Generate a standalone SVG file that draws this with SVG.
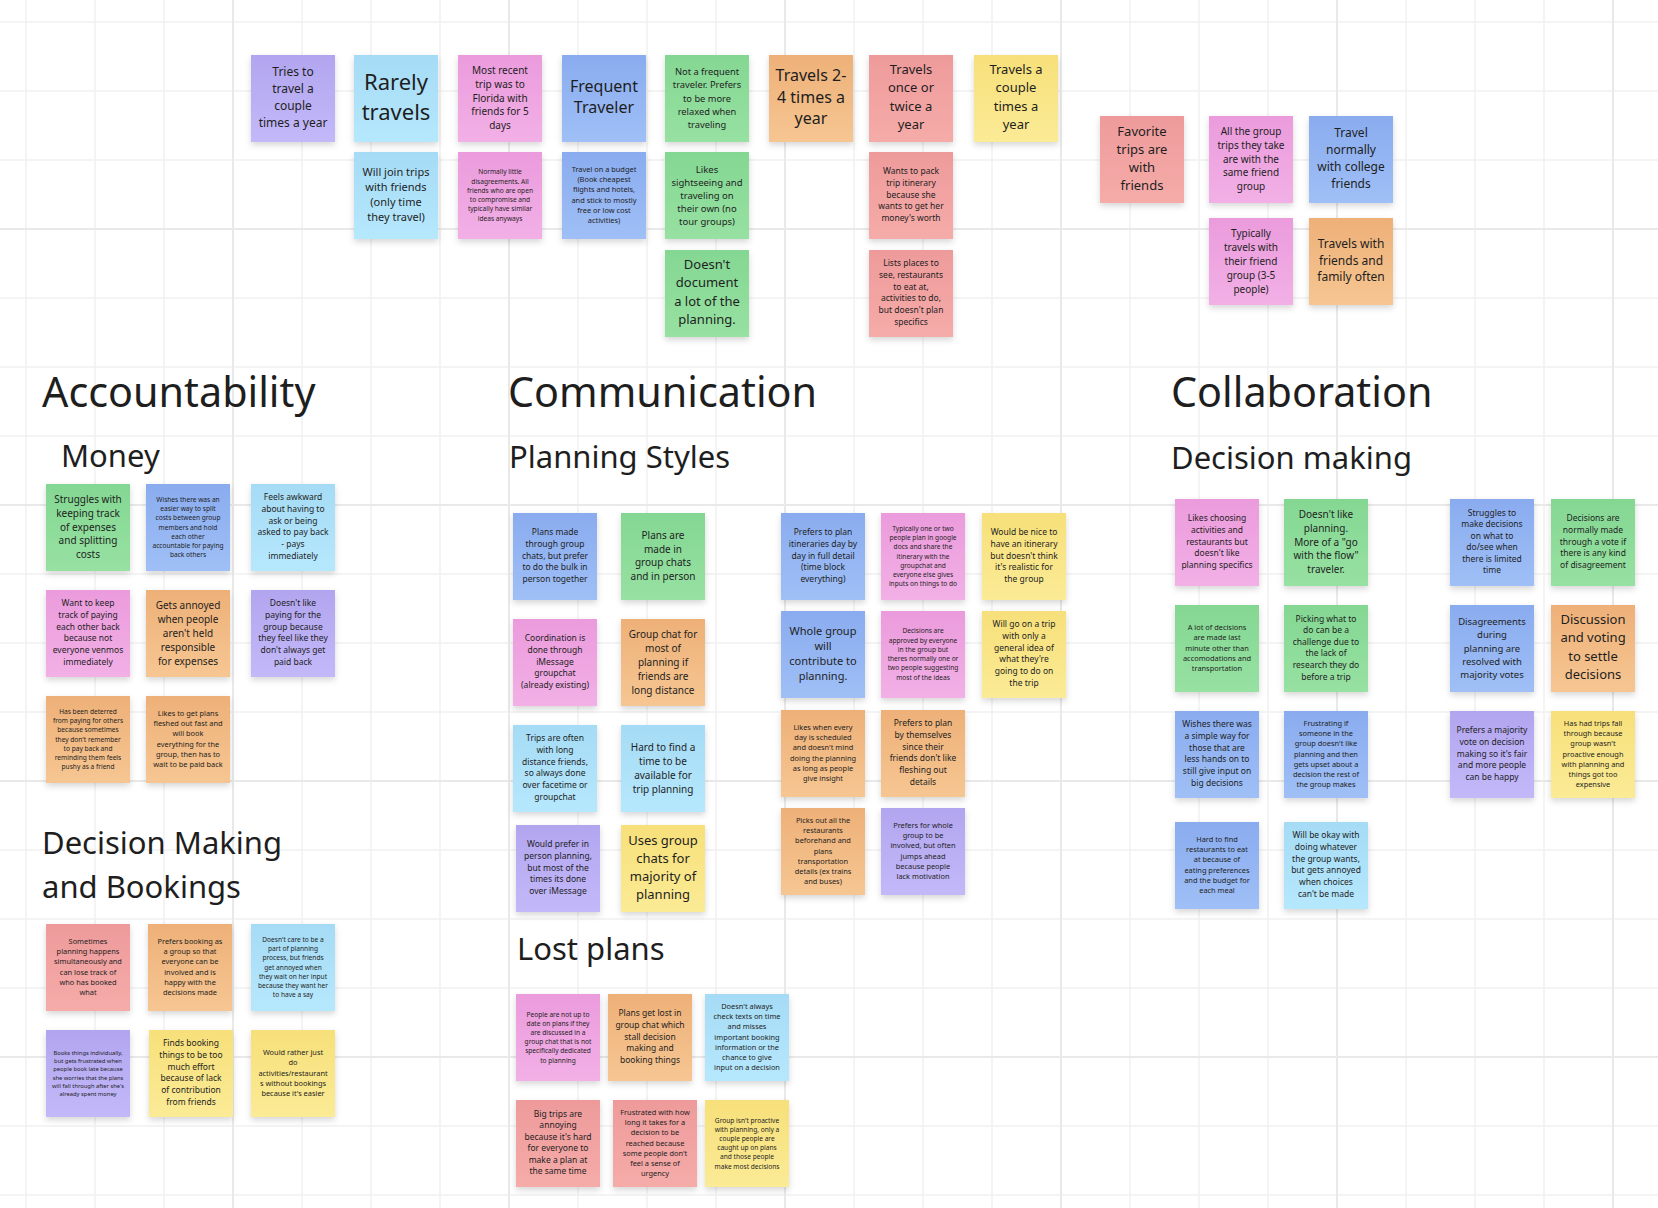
<svg xmlns="http://www.w3.org/2000/svg" width="1658" height="1208" viewBox="0 0 1658 1208">
<defs>
<linearGradient id="gPurple" x1="0" y1="0" x2="0" y2="1"><stop offset="0" stop-color="#b2a5ef"/><stop offset="1" stop-color="#c3b9f9"/></linearGradient>
<linearGradient id="gLblue" x1="0" y1="0" x2="0" y2="1"><stop offset="0" stop-color="#a5dbf5"/><stop offset="1" stop-color="#b6e8fd"/></linearGradient>
<linearGradient id="gPink" x1="0" y1="0" x2="0" y2="1"><stop offset="0" stop-color="#eb9bdc"/><stop offset="1" stop-color="#f2b0e6"/></linearGradient>
<linearGradient id="gBlue" x1="0" y1="0" x2="0" y2="1"><stop offset="0" stop-color="#8aacef"/><stop offset="1" stop-color="#9fbff6"/></linearGradient>
<linearGradient id="gGreen" x1="0" y1="0" x2="0" y2="1"><stop offset="0" stop-color="#84d792"/><stop offset="1" stop-color="#97e1a2"/></linearGradient>
<linearGradient id="gOrange" x1="0" y1="0" x2="0" y2="1"><stop offset="0" stop-color="#eeb078"/><stop offset="1" stop-color="#f6c692"/></linearGradient>
<linearGradient id="gRed" x1="0" y1="0" x2="0" y2="1"><stop offset="0" stop-color="#ee9a9b"/><stop offset="1" stop-color="#f5aca9"/></linearGradient>
<linearGradient id="gYellow" x1="0" y1="0" x2="0" y2="1"><stop offset="0" stop-color="#f7e07a"/><stop offset="1" stop-color="#fbeb96"/></linearGradient>
<filter id="sh" x="-20%" y="-20%" width="140%" height="150%"><feDropShadow dx="0" dy="3" stdDeviation="3" flood-color="#000" flood-opacity="0.16"/></filter>
</defs>
<style>
.purple{fill:url(#gPurple)} .lblue{fill:url(#gLblue)} .pink{fill:url(#gPink)} .blue{fill:url(#gBlue)}
.green{fill:url(#gGreen)} .orange{fill:url(#gOrange)} .red{fill:url(#gRed)} .yellow{fill:url(#gYellow)}
rect.s{filter:url(#sh)}
text{font-family:"Noto Sans","Open Sans","DejaVu Sans",sans-serif;fill:#1e1e1e}
text.t{text-anchor:middle;dominant-baseline:middle}
.h1{font-size:41.3px}
.h2{font-size:31px}
.f58{font-size:5.8px}.f66{font-size:6.6px}.f74{font-size:7.4px}.f85{font-size:8.5px}.f93{font-size:9.3px}.f95{font-size:9.5px}
.f10{font-size:10px}.f11{font-size:11px}.f12{font-size:12px}.f13{font-size:13px}.f16{font-size:16px}.f22{font-size:22px}
.gmin{stroke:#f1f1f1;stroke-width:1.5;fill:none}
.gmaj{stroke:#e9e9e9;stroke-width:2;fill:none}
</style>
<rect width="1658" height="1208" fill="#ffffff"/>
<g id="grid">
<path class="gmin" d="M26 0V1208M95 0V1208M164 0V1208M302 0V1208M371 0V1208M440 0V1208M578 0V1208M647 0V1208M716 0V1208M854 0V1208M923 0V1208M992 0V1208M1130 0V1208M1199 0V1208M1268 0V1208M1406 0V1208M1475 0V1208M1544 0V1208M0 22H1658M0 91H1658M0 160H1658M0 298H1658M0 367H1658M0 436H1658M0 574H1658M0 643H1658M0 712H1658M0 850H1658M0 919H1658M0 988H1658M0 1126H1658M0 1195H1658"/>
<path class="gmaj" d="M233 0V1208M509 0V1208M785 0V1208M1061 0V1208M1337 0V1208M1613 0V1208M0 229H1658M0 505H1658M0 781H1658M0 1057H1658"/>
</g>
<g id="connectors"/>
<g id="headings">
<text id="h-accountability" class="h1" x="42" y="407">Accountability</text>
<text id="h-communication" class="h1" x="508" y="407">Communication</text>
<text id="h-collaboration" class="h1" x="1171" y="407">Collaboration</text>
<text id="h-money" class="h2" x="61" y="467">Money</text>
<text id="h-planning" class="h2" x="509" y="468">Planning Styles</text>
<text id="h-decision" class="h2" x="1171" y="469">Decision making</text>
<text id="h-dmb" class="h2" x="42" y="854"><tspan x="42">Decision Making</tspan><tspan x="42" dy="44">and Bookings</tspan></text>
<text id="h-lost" class="h2" x="517" y="960">Lost plans</text>
</g>

<!-- Top section -->
<g id="n1"><rect class="s purple" x="251" y="55" width="84" height="87"/><text class="t f12" x="293" y="98.5"><tspan x="293" dy="-25.5">Tries to</tspan><tspan x="293" dy="17">travel a</tspan><tspan x="293" dy="17">couple</tspan><tspan x="293" dy="17">times a year</tspan></text></g>
<g id="n2"><rect class="s lblue" x="354" y="55" width="84" height="87"/><text class="t f22" x="396" y="98.5"><tspan x="396" dy="-15">Rarely</tspan><tspan x="396" dy="30">travels</tspan></text></g>
<g id="n3"><rect class="s lblue" x="354" y="152" width="84" height="87"/><text class="t f11" x="396" y="195.5"><tspan x="396" dy="-23">Will join trips</tspan><tspan x="396" dy="15.3">with friends</tspan><tspan x="396" dy="15.3">(only time</tspan><tspan x="396" dy="15.3">they travel)</tspan></text></g>
<g id="n4"><rect class="s pink" x="458" y="55" width="84" height="87"/><text class="t f10" x="500" y="98.5"><tspan x="500" dy="-27.8">Most recent</tspan><tspan x="500" dy="13.9">trip was to</tspan><tspan x="500" dy="13.9">Florida with</tspan><tspan x="500" dy="13.9">friends for 5</tspan><tspan x="500" dy="13.9">days</tspan></text></g>
<g id="n5"><rect class="s pink" x="458" y="152" width="84" height="87"/><text class="t f66" x="500" y="195.5"><tspan x="500" dy="-23.25">Normally little</tspan><tspan x="500" dy="9.3">disagreements. All</tspan><tspan x="500" dy="9.3">friends who are open</tspan><tspan x="500" dy="9.3">to compromise and</tspan><tspan x="500" dy="9.3">typically have similar</tspan><tspan x="500" dy="9.3">ideas anyways</tspan></text></g>
<g id="n6"><rect class="s blue" x="562" y="55" width="84" height="87"/><text class="t f16" x="604" y="98.5"><tspan x="604" dy="-10.85">Frequent</tspan><tspan x="604" dy="21.7">Traveler</tspan></text></g>
<g id="n7"><rect class="s blue" x="562" y="152" width="84" height="87"/><text class="t f74" x="604" y="195.5"><tspan x="604" dy="-25.5">Travel on a budget</tspan><tspan x="604" dy="10.2">(Book cheapest</tspan><tspan x="604" dy="10.2">flights and hotels,</tspan><tspan x="604" dy="10.2">and stick to mostly</tspan><tspan x="604" dy="10.2">free or low cost</tspan><tspan x="604" dy="10.2">activities)</tspan></text></g>
<g id="n8"><rect class="s green" x="665" y="55" width="84" height="87"/><text class="t f93" x="707" y="98.5"><tspan x="707" dy="-26.4">Not a frequent</tspan><tspan x="707" dy="13.2">traveler. Prefers</tspan><tspan x="707" dy="13.2">to be more</tspan><tspan x="707" dy="13.2">relaxed when</tspan><tspan x="707" dy="13.2">traveling</tspan></text></g>
<g id="n9"><rect class="s green" x="665" y="152" width="84" height="87"/><text class="t f95" x="707" y="195.5"><tspan x="707" dy="-26">Likes</tspan><tspan x="707" dy="13">sightseeing and</tspan><tspan x="707" dy="13">traveling on</tspan><tspan x="707" dy="13">their own (no</tspan><tspan x="707" dy="13">tour groups)</tspan></text></g>
<g id="n10"><rect class="s green" x="665" y="250" width="84" height="87"/><text class="t f13" x="707" y="293.5"><tspan x="707" dy="-27.3">Doesn't</tspan><tspan x="707" dy="18.2">document</tspan><tspan x="707" dy="18.2">a lot of the</tspan><tspan x="707" dy="18.2">planning.</tspan></text></g>
<g id="n11"><rect class="s orange" x="769" y="55" width="84" height="87"/><text class="t f16" x="811" y="98.5"><tspan x="811" dy="-21.8">Travels 2-</tspan><tspan x="811" dy="21.8">4 times a</tspan><tspan x="811" dy="21.8">year</tspan></text></g>
<g id="n12"><rect class="s red" x="869" y="55" width="84" height="87"/><text class="t f13" x="911" y="98.5"><tspan x="911" dy="-27.3">Travels</tspan><tspan x="911" dy="18.2">once or</tspan><tspan x="911" dy="18.2">twice a</tspan><tspan x="911" dy="18.2">year</tspan></text></g>
<g id="n13"><rect class="s red" x="869" y="152" width="84" height="87"/><text class="t f85" x="911" y="195.5"><tspan x="911" dy="-23.4">Wants to pack</tspan><tspan x="911" dy="11.7">trip itinerary</tspan><tspan x="911" dy="11.7">because she</tspan><tspan x="911" dy="11.7">wants to get her</tspan><tspan x="911" dy="11.7">money's worth</tspan></text></g>
<g id="n14"><rect class="s red" x="869" y="250" width="84" height="87"/><text class="t f85" x="911" y="293.5"><tspan x="911" dy="-29.25">Lists places to</tspan><tspan x="911" dy="11.7">see, restaurants</tspan><tspan x="911" dy="11.7">to eat at,</tspan><tspan x="911" dy="11.7">activities to do,</tspan><tspan x="911" dy="11.7">but doesn't plan</tspan><tspan x="911" dy="11.7">specifics</tspan></text></g>
<g id="n15"><rect class="s yellow" x="974" y="55" width="84" height="87"/><text class="t f13" x="1016" y="98.5"><tspan x="1016" dy="-27.3">Travels a</tspan><tspan x="1016" dy="18.2">couple</tspan><tspan x="1016" dy="18.2">times a</tspan><tspan x="1016" dy="18.2">year</tspan></text></g>
<g id="n16"><rect class="s red" x="1100" y="116" width="84" height="87"/><text class="t f13" x="1142" y="159.5"><tspan x="1142" dy="-27">Favorite</tspan><tspan x="1142" dy="18">trips are</tspan><tspan x="1142" dy="18">with</tspan><tspan x="1142" dy="18">friends</tspan></text></g>
<g id="n17"><rect class="s pink" x="1209" y="116" width="84" height="87"/><text class="t f10" x="1251" y="159.5"><tspan x="1251" dy="-27.8">All the group</tspan><tspan x="1251" dy="13.9">trips they take</tspan><tspan x="1251" dy="13.9">are with the</tspan><tspan x="1251" dy="13.9">same friend</tspan><tspan x="1251" dy="13.9">group</tspan></text></g>
<g id="n18"><rect class="s blue" x="1309" y="116" width="84" height="87"/><text class="t f12" x="1351" y="159.5"><tspan x="1351" dy="-25.2">Travel</tspan><tspan x="1351" dy="16.8">normally</tspan><tspan x="1351" dy="16.8">with college</tspan><tspan x="1351" dy="16.8">friends</tspan></text></g>
<g id="n19"><rect class="s pink" x="1209" y="218" width="84" height="87"/><text class="t f10" x="1251" y="261.5"><tspan x="1251" dy="-28">Typically</tspan><tspan x="1251" dy="14">travels with</tspan><tspan x="1251" dy="14">their friend</tspan><tspan x="1251" dy="14">group (3-5</tspan><tspan x="1251" dy="14">people)</tspan></text></g>
<g id="n20"><rect class="s orange" x="1309" y="218" width="84" height="87"/><text class="t f12" x="1351" y="261.5"><tspan x="1351" dy="-16.7">Travels with</tspan><tspan x="1351" dy="16.7">friends and</tspan><tspan x="1351" dy="16.7">family often</tspan></text></g>

<!-- Money -->
<g id="m1"><rect class="s green" x="46" y="484" width="84" height="87"/><text class="t f10" x="88" y="527.5"><tspan x="88" dy="-27.8">Struggles with</tspan><tspan x="88" dy="13.9">keeping track</tspan><tspan x="88" dy="13.9">of expenses</tspan><tspan x="88" dy="13.9">and splitting</tspan><tspan x="88" dy="13.9">costs</tspan></text></g>
<g id="m2"><rect class="s blue" x="146" y="484" width="84" height="87"/><text class="t f66" x="188" y="527.5"><tspan x="188" dy="-27.9">Wishes there was an</tspan><tspan x="188" dy="9.3">easier way to split</tspan><tspan x="188" dy="9.3">costs between group</tspan><tspan x="188" dy="9.3">members and hold</tspan><tspan x="188" dy="9.3">each other</tspan><tspan x="188" dy="9.3">accountable for paying</tspan><tspan x="188" dy="9.3">back others</tspan></text></g>
<g id="m3"><rect class="s lblue" x="251" y="484" width="84" height="87"/><text class="t f85" x="293" y="527.5"><tspan x="293" dy="-29.25">Feels awkward</tspan><tspan x="293" dy="11.7">about having to</tspan><tspan x="293" dy="11.7">ask or being</tspan><tspan x="293" dy="11.7">asked to pay back</tspan><tspan x="293" dy="11.7">- pays</tspan><tspan x="293" dy="11.7">immediately</tspan></text></g>
<g id="m4"><rect class="s pink" x="46" y="590" width="84" height="87"/><text class="t f85" x="88" y="633.5"><tspan x="88" dy="-29.25">Want to keep</tspan><tspan x="88" dy="11.7">track of paying</tspan><tspan x="88" dy="11.7">each other back</tspan><tspan x="88" dy="11.7">because not</tspan><tspan x="88" dy="11.7">everyone venmos</tspan><tspan x="88" dy="11.7">immediately</tspan></text></g>
<g id="m5"><rect class="s orange" x="146" y="590" width="84" height="87"/><text class="t f10" x="188" y="633.5"><tspan x="188" dy="-28">Gets annoyed</tspan><tspan x="188" dy="14">when people</tspan><tspan x="188" dy="14">aren't held</tspan><tspan x="188" dy="14">responsible</tspan><tspan x="188" dy="14">for expenses</tspan></text></g>
<g id="m6"><rect class="s purple" x="251" y="590" width="84" height="87"/><text class="t f85" x="293" y="633.5"><tspan x="293" dy="-29.25">Doesn't like</tspan><tspan x="293" dy="11.7">paying for the</tspan><tspan x="293" dy="11.7">group because</tspan><tspan x="293" dy="11.7">they feel like they</tspan><tspan x="293" dy="11.7">don't always get</tspan><tspan x="293" dy="11.7">paid back</tspan></text></g>
<g id="m7"><rect class="s orange" x="46" y="696" width="84" height="87"/><text class="t f66" x="88" y="739.5"><tspan x="88" dy="-27.9">Has been deterred</tspan><tspan x="88" dy="9.3">from paying for others</tspan><tspan x="88" dy="9.3">because sometimes</tspan><tspan x="88" dy="9.3">they don't remember</tspan><tspan x="88" dy="9.3">to pay back and</tspan><tspan x="88" dy="9.3">reminding them feels</tspan><tspan x="88" dy="9.3">pushy as a friend</tspan></text></g>
<g id="m8"><rect class="s orange" x="146" y="696" width="84" height="87"/><text class="t f74" x="188" y="739.5"><tspan x="188" dy="-25.25">Likes to get plans</tspan><tspan x="188" dy="10.1">fleshed out fast and</tspan><tspan x="188" dy="10.1">will book</tspan><tspan x="188" dy="10.1">everything for the</tspan><tspan x="188" dy="10.1">group, then has to</tspan><tspan x="188" dy="10.1">wait to be paid back</tspan></text></g>

<!-- Decision Making and Bookings -->
<g id="d1"><rect class="s red" x="46" y="924" width="84" height="87"/><text class="t f74" x="88" y="967.5"><tspan x="88" dy="-25.5">Sometimes</tspan><tspan x="88" dy="10.2">planning happens</tspan><tspan x="88" dy="10.2">simultaneously and</tspan><tspan x="88" dy="10.2">can lose track of</tspan><tspan x="88" dy="10.2">who has booked</tspan><tspan x="88" dy="10.2">what</tspan></text></g>
<g id="d2"><rect class="s orange" x="148" y="924" width="84" height="87"/><text class="t f74" x="190" y="967.5"><tspan x="190" dy="-25.5">Prefers booking as</tspan><tspan x="190" dy="10.2">a group so that</tspan><tspan x="190" dy="10.2">everyone can be</tspan><tspan x="190" dy="10.2">involved and is</tspan><tspan x="190" dy="10.2">happy with the</tspan><tspan x="190" dy="10.2">decisions made</tspan></text></g>
<g id="d3"><rect class="s lblue" x="251" y="924" width="84" height="87"/><text class="t f66" x="293" y="967.5"><tspan x="293" dy="-27.9">Doesn't care to be a</tspan><tspan x="293" dy="9.3">part of planning</tspan><tspan x="293" dy="9.3">process, but friends</tspan><tspan x="293" dy="9.3">get annoyed when</tspan><tspan x="293" dy="9.3">they wait on her input</tspan><tspan x="293" dy="9.3">because they want her</tspan><tspan x="293" dy="9.3">to have a say</tspan></text></g>
<g id="d4"><rect class="s purple" x="46" y="1030" width="84" height="87"/><text class="t f58" x="88" y="1073.5"><tspan x="88" dy="-20.5">Books things individually,</tspan><tspan x="88" dy="8.2">but gets frustrated when</tspan><tspan x="88" dy="8.2">people book late because</tspan><tspan x="88" dy="8.2">she worries that the plans</tspan><tspan x="88" dy="8.2">will fall through after she's</tspan><tspan x="88" dy="8.2">already spent money</tspan></text></g>
<g id="d5"><rect class="s yellow" x="149" y="1030" width="84" height="87"/><text class="t f85" x="191" y="1073.5"><tspan x="191" dy="-29.25">Finds booking</tspan><tspan x="191" dy="11.7">things to be too</tspan><tspan x="191" dy="11.7">much effort</tspan><tspan x="191" dy="11.7">because of lack</tspan><tspan x="191" dy="11.7">of contribution</tspan><tspan x="191" dy="11.7">from friends</tspan></text></g>
<g id="d6"><rect class="s yellow" x="251" y="1030" width="84" height="87"/><text class="t f74" x="293" y="1073.5"><tspan x="293" dy="-20.6">Would rather just</tspan><tspan x="293" dy="10.3">do</tspan><tspan x="293" dy="10.3">activities/restaurant</tspan><tspan x="293" dy="10.3">s without bookings</tspan><tspan x="293" dy="10.3">because it's easier</tspan></text></g>

<!-- Planning Styles -->
<g id="p1"><rect class="s blue" x="513" y="513" width="84" height="87"/><text class="t f85" x="555" y="556.5"><tspan x="555" dy="-23.4">Plans made</tspan><tspan x="555" dy="11.7">through group</tspan><tspan x="555" dy="11.7">chats, but prefer</tspan><tspan x="555" dy="11.7">to do the bulk in</tspan><tspan x="555" dy="11.7">person together</tspan></text></g>
<g id="p2"><rect class="s green" x="621" y="513" width="84" height="87"/><text class="t f10" x="663" y="556.5"><tspan x="663" dy="-20.85">Plans are</tspan><tspan x="663" dy="13.9">made in</tspan><tspan x="663" dy="13.9">group chats</tspan><tspan x="663" dy="13.9">and in person</tspan></text></g>
<g id="p3"><rect class="s pink" x="513" y="619" width="84" height="87"/><text class="t f85" x="555" y="662.5"><tspan x="555" dy="-23.4">Coordination is</tspan><tspan x="555" dy="11.7">done through</tspan><tspan x="555" dy="11.7">iMessage</tspan><tspan x="555" dy="11.7">groupchat</tspan><tspan x="555" dy="11.7">(already existing)</tspan></text></g>
<g id="p4"><rect class="s orange" x="621" y="619" width="84" height="87"/><text class="t f10" x="663" y="662.5"><tspan x="663" dy="-28">Group chat for</tspan><tspan x="663" dy="14">most of</tspan><tspan x="663" dy="14">planning if</tspan><tspan x="663" dy="14">friends are</tspan><tspan x="663" dy="14">long distance</tspan></text></g>
<g id="p5"><rect class="s lblue" x="513" y="725" width="84" height="87"/><text class="t f85" x="555" y="768.5"><tspan x="555" dy="-29.25">Trips are often</tspan><tspan x="555" dy="11.7">with long</tspan><tspan x="555" dy="11.7">distance friends,</tspan><tspan x="555" dy="11.7">so always done</tspan><tspan x="555" dy="11.7">over facetime or</tspan><tspan x="555" dy="11.7">groupchat</tspan></text></g>
<g id="p6"><rect class="s lblue" x="621" y="725" width="84" height="87"/><text class="t f10" x="663" y="768.5"><tspan x="663" dy="-21">Hard to find a</tspan><tspan x="663" dy="14">time to be</tspan><tspan x="663" dy="14">available for</tspan><tspan x="663" dy="14">trip planning</tspan></text></g>
<g id="p7"><rect class="s purple" x="516" y="825" width="84" height="87"/><text class="t f85" x="558" y="868.5"><tspan x="558" dy="-23.4">Would prefer in</tspan><tspan x="558" dy="11.7">person planning,</tspan><tspan x="558" dy="11.7">but most of the</tspan><tspan x="558" dy="11.7">times its done</tspan><tspan x="558" dy="11.7">over iMessage</tspan></text></g>
<g id="p8"><rect class="s yellow" x="621" y="825" width="84" height="87"/><text class="t f13" x="663" y="868.5"><tspan x="663" dy="-27">Uses group</tspan><tspan x="663" dy="18">chats for</tspan><tspan x="663" dy="18">majority of</tspan><tspan x="663" dy="18">planning</tspan></text></g>

<g id="q1"><rect class="s blue" x="781" y="513" width="84" height="87"/><text class="t f85" x="823" y="556.5"><tspan x="823" dy="-23.4">Prefers to plan</tspan><tspan x="823" dy="11.7">itineraries day by</tspan><tspan x="823" dy="11.7">day in full detail</tspan><tspan x="823" dy="11.7">(time block</tspan><tspan x="823" dy="11.7">everything)</tspan></text></g>
<g id="q2"><rect class="s pink" x="881" y="513" width="84" height="87"/><text class="t f66" x="923" y="556.5"><tspan x="923" dy="-27.9">Typically one or two</tspan><tspan x="923" dy="9.3">people plan in google</tspan><tspan x="923" dy="9.3">docs and share the</tspan><tspan x="923" dy="9.3">itinerary with the</tspan><tspan x="923" dy="9.3">groupchat and</tspan><tspan x="923" dy="9.3">everyone else gives</tspan><tspan x="923" dy="9.3">inputs on things to do</tspan></text></g>
<g id="q3"><rect class="s yellow" x="982" y="513" width="84" height="87"/><text class="t f85" x="1024" y="556.5"><tspan x="1024" dy="-23.4">Would be nice to</tspan><tspan x="1024" dy="11.7">have an itinerary</tspan><tspan x="1024" dy="11.7">but doesn't think</tspan><tspan x="1024" dy="11.7">it's realistic for</tspan><tspan x="1024" dy="11.7">the group</tspan></text></g>
<g id="q4"><rect class="s blue" x="781" y="611" width="84" height="87"/><text class="t f11" x="823" y="654.5"><tspan x="823" dy="-22.8">Whole group</tspan><tspan x="823" dy="15.2">will</tspan><tspan x="823" dy="15.2">contribute to</tspan><tspan x="823" dy="15.2">planning.</tspan></text></g>
<g id="q5"><rect class="s pink" x="881" y="611" width="84" height="87"/><text class="t f66" x="923" y="654.5"><tspan x="923" dy="-23.25">Decisions are</tspan><tspan x="923" dy="9.3">approved by everyone</tspan><tspan x="923" dy="9.3">in the group but</tspan><tspan x="923" dy="9.3">theres normally one or</tspan><tspan x="923" dy="9.3">two people suggesting</tspan><tspan x="923" dy="9.3">most of the ideas</tspan></text></g>
<g id="q6"><rect class="s yellow" x="982" y="611" width="84" height="87"/><text class="t f85" x="1024" y="654.5"><tspan x="1024" dy="-29.25">Will go on a trip</tspan><tspan x="1024" dy="11.7">with only a</tspan><tspan x="1024" dy="11.7">general idea of</tspan><tspan x="1024" dy="11.7">what they're</tspan><tspan x="1024" dy="11.7">going to do on</tspan><tspan x="1024" dy="11.7">the trip</tspan></text></g>
<g id="q7"><rect class="s orange" x="781" y="710" width="84" height="87"/><text class="t f74" x="823" y="753.5"><tspan x="823" dy="-25.75">Likes when every</tspan><tspan x="823" dy="10.3">day is scheduled</tspan><tspan x="823" dy="10.3">and doesn't mind</tspan><tspan x="823" dy="10.3">doing the planning</tspan><tspan x="823" dy="10.3">as long as people</tspan><tspan x="823" dy="10.3">give insight</tspan></text></g>
<g id="q8"><rect class="s orange" x="881" y="710" width="84" height="87"/><text class="t f85" x="923" y="753.5"><tspan x="923" dy="-29.25">Prefers to  plan</tspan><tspan x="923" dy="11.7">by themselves</tspan><tspan x="923" dy="11.7">since their</tspan><tspan x="923" dy="11.7">friends don't like</tspan><tspan x="923" dy="11.7">fleshing out</tspan><tspan x="923" dy="11.7">details</tspan></text></g>
<g id="q9"><rect class="s orange" x="781" y="808" width="84" height="87"/><text class="t f74" x="823" y="851.5"><tspan x="823" dy="-30.75">Picks out all the</tspan><tspan x="823" dy="10.25">restaurants</tspan><tspan x="823" dy="10.25">beforehand and</tspan><tspan x="823" dy="10.25">plans</tspan><tspan x="823" dy="10.25">transportation</tspan><tspan x="823" dy="10.25">details (ex trains</tspan><tspan x="823" dy="10.25">and buses)</tspan></text></g>
<g id="q10"><rect class="s purple" x="881" y="808" width="84" height="87"/><text class="t f74" x="923" y="851.5"><tspan x="923" dy="-25.5">Prefers for whole</tspan><tspan x="923" dy="10.2">group to be</tspan><tspan x="923" dy="10.2">involved, but often</tspan><tspan x="923" dy="10.2">jumps ahead</tspan><tspan x="923" dy="10.2">because people</tspan><tspan x="923" dy="10.2">lack motivation</tspan></text></g>

<!-- Lost plans -->
<g id="l1"><rect class="s pink" x="516" y="994" width="84" height="87"/><text class="t f66" x="558" y="1037.5"><tspan x="558" dy="-23">People are not up to</tspan><tspan x="558" dy="9.2">date on plans if they</tspan><tspan x="558" dy="9.2">are discussed in a</tspan><tspan x="558" dy="9.2">group chat that is not</tspan><tspan x="558" dy="9.2">specifically dedicated</tspan><tspan x="558" dy="9.2">to planning</tspan></text></g>
<g id="l2"><rect class="s orange" x="608" y="994" width="84" height="87"/><text class="t f85" x="650" y="1037.5"><tspan x="650" dy="-23.4">Plans get lost in</tspan><tspan x="650" dy="11.7">group chat which</tspan><tspan x="650" dy="11.7">stall decision</tspan><tspan x="650" dy="11.7">making and</tspan><tspan x="650" dy="11.7">booking things</tspan></text></g>
<g id="l3"><rect class="s lblue" x="705" y="994" width="84" height="87"/><text class="t f74" x="747" y="1037.5"><tspan x="747" dy="-30.75">Doesn't always</tspan><tspan x="747" dy="10.25">check texts on time</tspan><tspan x="747" dy="10.25">and misses</tspan><tspan x="747" dy="10.25">important booking</tspan><tspan x="747" dy="10.25">information or the</tspan><tspan x="747" dy="10.25">chance to give</tspan><tspan x="747" dy="10.25">input on a decision</tspan></text></g>
<g id="l4"><rect class="s red" x="516" y="1100" width="84" height="87"/><text class="t f85" x="558" y="1143.5"><tspan x="558" dy="-28.75">Big trips are</tspan><tspan x="558" dy="11.5">annoying</tspan><tspan x="558" dy="11.5">because it's hard</tspan><tspan x="558" dy="11.5">for everyone to</tspan><tspan x="558" dy="11.5">make a plan at</tspan><tspan x="558" dy="11.5">the same time</tspan></text></g>
<g id="l5"><rect class="s red" x="613" y="1100" width="84" height="87"/><text class="t f74" x="655" y="1143.5"><tspan x="655" dy="-30.75">Frustrated with how</tspan><tspan x="655" dy="10.25">long it takes for a</tspan><tspan x="655" dy="10.25">decision to be</tspan><tspan x="655" dy="10.25">reached because</tspan><tspan x="655" dy="10.25">some people don't</tspan><tspan x="655" dy="10.25">feel a sense of</tspan><tspan x="655" dy="10.25">urgency</tspan></text></g>
<g id="l6"><rect class="s yellow" x="705" y="1100" width="84" height="87"/><text class="t f66" x="747" y="1143.5"><tspan x="747" dy="-23">Group isn't proactive</tspan><tspan x="747" dy="9.2">with planning, only a</tspan><tspan x="747" dy="9.2">couple people are</tspan><tspan x="747" dy="9.2">caught up on plans</tspan><tspan x="747" dy="9.2">and those people</tspan><tspan x="747" dy="9.2">make most decisions</tspan></text></g>

<!-- Collaboration / Decision making -->
<g id="c1"><rect class="s pink" x="1175" y="499" width="84" height="87"/><text class="t f85" x="1217" y="542.5"><tspan x="1217" dy="-23.4">Likes choosing</tspan><tspan x="1217" dy="11.7">activities and</tspan><tspan x="1217" dy="11.7">restaurants but</tspan><tspan x="1217" dy="11.7">doesn't like</tspan><tspan x="1217" dy="11.7">planning specifics</tspan></text></g>
<g id="c2"><rect class="s green" x="1284" y="499" width="84" height="87"/><text class="t f10" x="1326" y="542.5"><tspan x="1326" dy="-27.8">Doesn't like</tspan><tspan x="1326" dy="13.9">planning.</tspan><tspan x="1326" dy="13.9">More of a "go</tspan><tspan x="1326" dy="13.9">with the flow"</tspan><tspan x="1326" dy="13.9">traveler.</tspan></text></g>
<g id="c3"><rect class="s green" x="1175" y="605" width="84" height="87"/><text class="t f74" x="1217" y="648.5"><tspan x="1217" dy="-20.5">A lot of decisions</tspan><tspan x="1217" dy="10.25">are made last</tspan><tspan x="1217" dy="10.25">minute other than</tspan><tspan x="1217" dy="10.25">accomodations and</tspan><tspan x="1217" dy="10.25">transportation</tspan></text></g>
<g id="c4"><rect class="s green" x="1284" y="605" width="84" height="87"/><text class="t f85" x="1326" y="648.5"><tspan x="1326" dy="-29">Picking what to</tspan><tspan x="1326" dy="11.6">do can be a</tspan><tspan x="1326" dy="11.6">challenge due to</tspan><tspan x="1326" dy="11.6">the lack of</tspan><tspan x="1326" dy="11.6">research they do</tspan><tspan x="1326" dy="11.6">before a trip</tspan></text></g>
<g id="c5"><rect class="s blue" x="1175" y="711" width="84" height="87"/><text class="t f85" x="1217" y="754.5"><tspan x="1217" dy="-29.25">Wishes there was</tspan><tspan x="1217" dy="11.7">a simple way for</tspan><tspan x="1217" dy="11.7">those that are</tspan><tspan x="1217" dy="11.7">less hands on to</tspan><tspan x="1217" dy="11.7">still give input on</tspan><tspan x="1217" dy="11.7">big decisions</tspan></text></g>
<g id="c6"><rect class="s blue" x="1284" y="711" width="84" height="87"/><text class="t f74" x="1326" y="754.5"><tspan x="1326" dy="-30.9">Frustrating if</tspan><tspan x="1326" dy="10.3">someone in the</tspan><tspan x="1326" dy="10.3">group doesn't like</tspan><tspan x="1326" dy="10.3">planning and then</tspan><tspan x="1326" dy="10.3">gets upset about a</tspan><tspan x="1326" dy="10.3">decision the rest of</tspan><tspan x="1326" dy="10.3">the group makes</tspan></text></g>
<g id="c7"><rect class="s blue" x="1175" y="822" width="84" height="87"/><text class="t f74" x="1217" y="865.5"><tspan x="1217" dy="-25.5">Hard to find</tspan><tspan x="1217" dy="10.2">restaurants to eat</tspan><tspan x="1217" dy="10.2">at because of</tspan><tspan x="1217" dy="10.2">eating preferences</tspan><tspan x="1217" dy="10.2">and the budget for</tspan><tspan x="1217" dy="10.2">each meal</tspan></text></g>
<g id="c8"><rect class="s lblue" x="1284" y="822" width="84" height="87"/><text class="t f85" x="1326" y="865.5"><tspan x="1326" dy="-29.25">Will be okay with</tspan><tspan x="1326" dy="11.7">doing whatever</tspan><tspan x="1326" dy="11.7">the group wants,</tspan><tspan x="1326" dy="11.7">but gets annoyed</tspan><tspan x="1326" dy="11.7">when choices</tspan><tspan x="1326" dy="11.7">can't be made</tspan></text></g>
<g id="c9"><rect class="s blue" x="1450" y="499" width="84" height="87"/><text class="t f85" x="1492" y="542.5"><tspan x="1492" dy="-28.75">Struggles to</tspan><tspan x="1492" dy="11.5">make decisions</tspan><tspan x="1492" dy="11.5">on what to</tspan><tspan x="1492" dy="11.5">do/see when</tspan><tspan x="1492" dy="11.5">there is limited</tspan><tspan x="1492" dy="11.5">time</tspan></text></g>
<g id="c10"><rect class="s green" x="1551" y="499" width="84" height="87"/><text class="t f85" x="1593" y="542.5"><tspan x="1593" dy="-23.2">Decisions are</tspan><tspan x="1593" dy="11.6">normally made</tspan><tspan x="1593" dy="11.6">through a vote if</tspan><tspan x="1593" dy="11.6">there is any kind</tspan><tspan x="1593" dy="11.6">of disagreement</tspan></text></g>
<g id="c11"><rect class="s blue" x="1450" y="605" width="84" height="87"/><text class="t f95" x="1492" y="648.5"><tspan x="1492" dy="-26.2">Disagreements</tspan><tspan x="1492" dy="13.1">during</tspan><tspan x="1492" dy="13.1">planning are</tspan><tspan x="1492" dy="13.1">resolved with</tspan><tspan x="1492" dy="13.1">majority votes</tspan></text></g>
<g id="c12"><rect class="s orange" x="1551" y="605" width="84" height="87"/><text class="t f13" x="1593" y="648.5"><tspan x="1593" dy="-27.15">Discussion</tspan><tspan x="1593" dy="18.1">and voting</tspan><tspan x="1593" dy="18.1">to settle</tspan><tspan x="1593" dy="18.1">decisions</tspan></text></g>
<g id="c13"><rect class="s purple" x="1450" y="711" width="84" height="87"/><text class="t f85" x="1492" y="754.5"><tspan x="1492" dy="-23.2">Prefers a majority</tspan><tspan x="1492" dy="11.6">vote on decision</tspan><tspan x="1492" dy="11.6">making so it's fair</tspan><tspan x="1492" dy="11.6">and more people</tspan><tspan x="1492" dy="11.6">can be happy</tspan></text></g>
<g id="c14"><rect class="s yellow" x="1551" y="711" width="84" height="87"/><text class="t f74" x="1593" y="754.5"><tspan x="1593" dy="-30.9">Has had trips fall</tspan><tspan x="1593" dy="10.3">through because</tspan><tspan x="1593" dy="10.3">group wasn't</tspan><tspan x="1593" dy="10.3">proactive enough</tspan><tspan x="1593" dy="10.3">with planning and</tspan><tspan x="1593" dy="10.3">things got too</tspan><tspan x="1593" dy="10.3">expensive</tspan></text></g>
</svg>
